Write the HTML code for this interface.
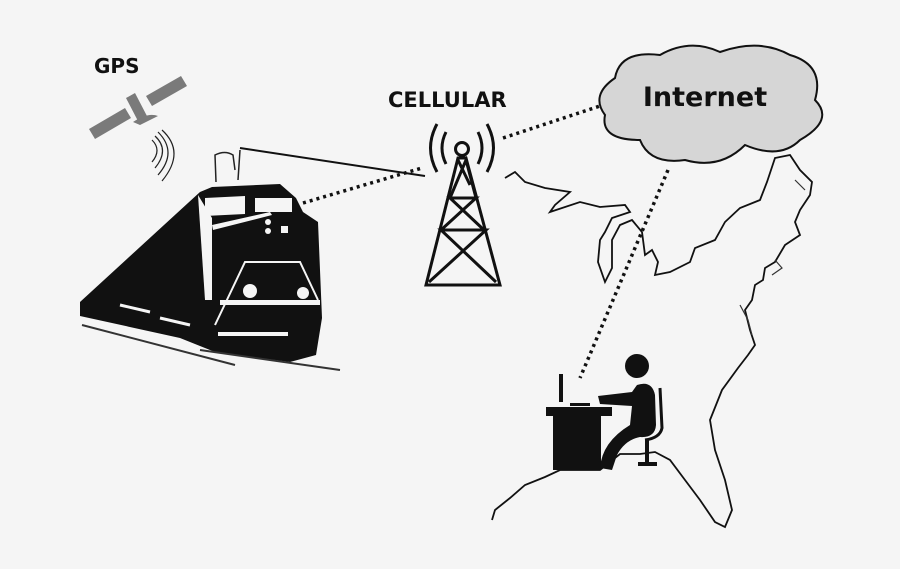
<!DOCTYPE html>
<html><head><style>html,body{margin:0;padding:0;background:#f5f5f5}svg{display:block}</style></head><body>
<svg width="900" height="569" viewBox="0 0 900 569" xmlns="http://www.w3.org/2000/svg">
<rect width="900" height="569" fill="#f5f5f5"/>
<g font-family="'DejaVu Sans','Liberation Sans',sans-serif" font-weight="bold" fill="#111">
<text x="94" y="73" font-size="20">GPS</text>
<text x="388" y="107" font-size="21">CELLULAR</text>
</g>
<!-- satellite -->
<g fill="#7a7a7a">
<polygon points="89,129 125,108 131,118 95,139"/>
<polygon points="146,96 181,76 187,86 152,106"/>
<polygon points="126,98 135,93 148,118 139,123"/>
<path d="M133,122 Q148,112 158,116 L140,125 Z"/>
</g>
<g fill="none" stroke="#222" stroke-width="1.2">
<path d="M152,140 Q162,150 152,162"/><path d="M155,136 Q170,150 155,168"/><path d="M158,132 Q178,152 158,175"/><path d="M162,130 Q186,152 162,181"/>
</g>
<!-- train -->
<polygon fill="#111" points="80,302 200,192 212,187 280,184 296,198 303,212 318,222 322,318 316,355 290,362 215,352 180,338 80,316"/>
<polygon fill="#f5f5f5" points="205,198 245,196 245,214 205,216"/>
<polygon fill="#f5f5f5" points="255,198 292,198 292,212 255,212"/>
<polygon fill="#f5f5f5" points="212,225 270,212 272,215 213,230"/>
<polygon fill="#f5f5f5" points="198,195 212,218 212,300 205,300"/>
<rect x="281" y="226" width="7" height="7" fill="#f5f5f5"/>
<circle cx="268" cy="222" r="3" fill="#f5f5f5"/><circle cx="268" cy="231" r="3" fill="#f5f5f5"/>
<circle cx="250" cy="291" r="7" fill="#f5f5f5"/><circle cx="303" cy="293" r="6" fill="#f5f5f5"/>
<rect x="220" y="300" width="100" height="5" fill="#f5f5f5"/>
<path d="M215,325 L245,262 L300,262 L318,300" fill="none" stroke="#f5f5f5" stroke-width="2"/>
<rect x="218" y="332" width="70" height="4" fill="#f5f5f5"/>
<path d="M80,318 L220,355" stroke="#f5f5f5" stroke-width="2"/>
<path d="M82,325 L235,365 M200,350 L340,370" stroke="#333" stroke-width="2"/>
<path d="M120,305 L150,312 M160,318 L190,325" stroke="#f5f5f5" stroke-width="3"/>
<!-- antenna wire -->
<path d="M240,148 Q320,160 425,176" fill="none" stroke="#111" stroke-width="2"/>
<path d="M216,182 L215,155 Q225,150 233,155 L235,170 M238,180 L240,150" fill="none" stroke="#222" stroke-width="1.5"/>
<!-- tower -->
<g stroke="#111" stroke-width="3" fill="none">
<path d="M426,285 L458,158 L466,158 L500,285 Z"/>
<path d="M429,282 L486,230 L441,230 L496,282 M441,230 L476,198 L450,198 L484,230 M450,198 L466,160 L476,198 M458,160 L470,185"/>
<circle cx="462" cy="149" r="6.5"/>
<path d="M446,132 Q438,148 446,164"/><path d="M437,124 Q424,148 437,172"/>
<path d="M478,132 Q486,148 478,164"/><path d="M487,124 Q500,148 487,172"/>
</g>
<!-- dotted links -->
<g stroke="#111" stroke-width="3.5" stroke-dasharray="3,4" fill="none">
<path d="M303,203 L422,168"/><path d="M503,138 L606,104"/><path d="M668,170 L580,378"/>
</g>
<!-- map -->
<path fill="none" stroke="#111" stroke-width="1.8" d="M505,178 L515,172 L525,182 L545,188 L570,192 L555,205 L550,212 L580,202 L600,207 L625,205 L630,212 L612,218 L605,232 L600,240 L598,262 L605,282 L612,268 L612,240 L620,225 L632,220 L642,232 L645,255 L652,250 L658,262 L655,275 L670,272 L690,262 L695,248 L715,240 L725,222 L740,208 L760,200 L767,182 L775,158 L790,155 L800,170 L812,182 L810,195 L800,210 L795,222 L800,235 L785,245 L775,262 L765,268 L763,280 L755,285 L752,300 L745,310 L750,330 L755,345 L748,355 L738,368 L722,390 L710,420 L715,450 L725,480 L732,510 L725,527 L715,522 L700,500 L685,480 L670,460 L655,452 L640,454 L620,454 L600,470 L580,470 L560,470 L545,477 L525,485 L510,498 L495,510 L492,520"/>
<path fill="none" stroke="#333" stroke-width="1.2" d="M740,305 L748,320 L752,335 M772,275 L782,268 L775,260 M795,180 L805,190"/>
<!-- cloud -->
<path fill="#d6d6d6" stroke="#111" stroke-width="2" d="M615,78 Q620,50 660,55 Q690,38 720,52 Q760,38 790,55 Q825,65 815,100 Q835,120 800,140 Q780,160 745,145 Q720,170 685,160 Q650,165 640,140 Q600,140 605,115 Q590,95 615,78 Z"/>
<text x="705" y="106" text-anchor="middle" font-family="'DejaVu Sans','Liberation Sans',sans-serif" font-weight="bold" font-size="27" fill="#111">Internet</text>
<!-- person at desk -->
<rect x="546" y="407" width="66" height="9" fill="#111"/>
<rect x="553" y="414" width="48" height="56" fill="#111"/>
<rect x="559" y="374" width="4" height="28" fill="#111"/>
<rect x="570" y="403" width="20" height="3" fill="#111"/>
<circle cx="637" cy="366" r="12" fill="#111"/>
<path fill="#111" d="M598,396 L632,392 L637,385 Q652,380 655,395 L656,425 Q655,438 640,437 Q625,440 617,455 L612,470 L600,468 Q602,442 630,425 L632,406 L600,404 Z"/>
<path d="M660,388 L662,428 Q660,438 645,440" fill="none" stroke="#111" stroke-width="3"/>
<path d="M647,440 L647,463 M638,464 L657,464" stroke="#111" stroke-width="4"/>
</svg>
</body></html>
